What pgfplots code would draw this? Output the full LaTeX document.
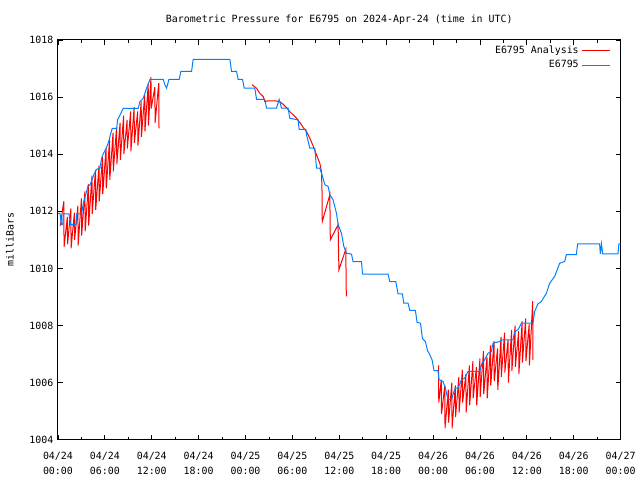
\documentclass[border=0pt]{standalone}
\usepackage{pgfplots}
\pgfplotsset{compat=1.18}
\usepackage{fontspec}
\setmainfont{DejaVu Sans Mono}
\definecolor{gpblue}{RGB}{0,128,255}
\definecolor{gpred}{RGB}{255,0,0}
\begin{document}
\begin{tikzpicture}[x=1pt,y=1pt]
\begin{axis}[
  scale only axis,
  width=422.25pt, height=300pt,
  xmin=0, xmax=72, ymin=1004, ymax=1018,
  xtick={0,6,...,72},
  minor xtick={3,9,...,69},
  ytick={1004,1006,...,1018},
  xticklabels={04/24\\00:00,04/24\\06:00,04/24\\12:00,04/24\\18:00,04/25\\00:00,04/25\\06:00,04/25\\12:00,04/25\\18:00,04/26\\00:00,04/26\\06:00,04/26\\12:00,04/26\\18:00,04/27\\00:00},
  xticklabel style={align=center, font=\fontsize{7.45}{11.25}\selectfont, yshift=-6pt},
  yticklabel style={font=\fontsize{7.45}{9}\selectfont},
  /pgf/number format/assume math mode=true,
  /pgf/number format/1000 sep={},
  tick align=inside,
  major tick length=3.5pt,
  minor tick length=2pt,
  tick style={black, line width=0.6pt},
  axis line style={black, line width=0.75pt},
  title={Barometric Pressure for E6795 on 2024-Apr-24 (time in UTC)},
  title style={font=\fontsize{7.45}{9}\selectfont, at={(0.5,1)}, anchor=base, yshift=6.75pt},
  ylabel={milliBars},
  ylabel style={font=\fontsize{7.45}{9}\selectfont, at={(axis description cs:-0.0853,0.5)}, anchor=center},
  legend style={draw=none, fill=none, at={(1,1)}, anchor=north east, xshift=-4.5pt, yshift=0pt,
    font=\fontsize{7.45}{9}\selectfont, row sep=0pt},
  legend cell align=right,
  legend plot pos=right,
  legend image code/.code={\draw[#1] (0pt,0pt) -- (21pt,0pt);},
]
% E6795 Analysis (red), three runs
\addplot[gpred, line width=0.75pt] coordinates {
(0.30,1011.50)
(0.75,1012.35)(0.78,1010.75)
(1.20,1011.80)(1.23,1010.85)
(1.65,1012.10)(1.68,1010.70)
(2.10,1011.95)(2.13,1011.00)
(2.55,1012.20)(2.58,1010.80)
(3.00,1012.45)(3.03,1011.15)
(3.45,1012.70)(3.48,1011.30)
(3.90,1012.95)(3.93,1011.50)
(4.35,1013.25)(4.38,1011.90)
(4.80,1013.45)(4.83,1012.05)
(5.25,1013.60)(5.28,1012.35)
(5.70,1013.90)(5.73,1012.60)
(6.15,1014.20)(6.18,1012.80)
(6.60,1014.50)(6.63,1013.10)
(7.05,1014.75)(7.08,1013.40)
(7.50,1014.95)(7.53,1013.65)
(7.95,1015.10)(7.98,1013.80)
(8.40,1015.35)(8.43,1014.00)
(8.85,1015.20)(8.88,1014.20)
(9.30,1015.50)(9.33,1014.10)
(9.75,1015.65)(9.78,1014.40)
(10.20,1015.50)(10.23,1014.30)
(10.65,1015.85)(10.68,1014.60)
(11.10,1016.10)(11.13,1014.80)
(11.55,1016.45)(11.58,1015.00)
(11.90,1016.70)(11.93,1015.60)
(12.40,1016.35)(12.43,1015.10)
(12.90,1016.50)(12.93,1014.90)
};
\addlegendentry{E6795 Analysis}
\addplot[gpred, line width=0.75pt, forget plot] coordinates {
(24.85,1016.43)(25.41,1016.31)(25.83,1016.13)(26.26,1016.02)(26.47,1015.84)
(26.89,1015.87)(27.75,1015.87)(28.39,1015.84)(28.81,1015.75)(29.25,1015.63)
(29.67,1015.49)(30.09,1015.38)(30.53,1015.26)(30.95,1015.11)(31.37,1014.94)
(31.81,1014.79)(32.23,1014.56)(32.65,1014.29)(33.08,1013.98)(33.51,1013.68)
(33.72,1013.39)(33.80,1012.60)(33.82,1011.64)
(34.79,1012.58)(34.85,1011.00)
(35.85,1011.53)(35.95,1009.95)
(36.83,1010.67)(36.90,1009.02)
};
\addplot[gpred, line width=0.75pt, forget plot] coordinates {
(48.70,1006.60)(48.73,1005.30)
(49.05,1006.10)(49.08,1004.90)
(49.50,1005.90)(49.53,1004.40)
(49.95,1005.75)(49.98,1004.60)
(50.40,1006.00)(50.43,1004.40)
(50.85,1005.90)(50.88,1004.80)
(51.30,1006.20)(51.33,1004.95)
(51.75,1006.45)(51.78,1005.30)
(52.20,1006.30)(52.23,1004.95)
(52.65,1006.60)(52.68,1005.20)
(53.10,1006.75)(53.13,1005.45)
(53.55,1006.55)(53.58,1005.20)
(54.00,1006.85)(54.03,1005.50)
(54.45,1007.10)(54.48,1005.60)
(54.90,1006.90)(54.93,1005.45)
(55.35,1007.30)(55.38,1005.90)
(55.80,1007.45)(55.83,1006.05)
(56.25,1007.20)(56.28,1005.75)
(56.70,1007.60)(56.73,1006.20)
(57.15,1007.75)(57.18,1006.35)
(57.60,1007.50)(57.63,1006.00)
(58.05,1007.85)(58.08,1006.40)
(58.50,1008.00)(58.53,1006.55)
(58.95,1007.80)(58.98,1006.30)
(59.40,1008.15)(59.43,1006.70)
(59.85,1008.25)(59.88,1006.75)
(60.30,1008.05)(60.33,1006.60)
(60.75,1008.85)(60.78,1006.80)
};
% E6795 observed (blue)
\addplot[gpblue, line width=0.75pt] coordinates {
(0,1011.93)(0.26,1011.93)(0.45,1011.53)(0.60,1011.53)(0.68,1011.91)(1.41,1011.91)
(1.62,1011.53)(2.30,1011.53)(2.39,1011.91)(3.03,1011.91)(3.24,1012.28)(3.45,1012.48)
(3.87,1012.91)(4.09,1012.91)(4.51,1013.22)(4.64,1013.31)(4.95,1013.47)(5.37,1013.51)
(5.59,1013.86)(5.79,1014.01)(6.23,1014.24)(6.56,1014.50)(6.65,1014.62)(6.94,1014.90)
(7.51,1014.90)(7.63,1015.20)(8.35,1015.60)(10.27,1015.60)(10.49,1015.84)(10.91,1015.96)
(11.34,1016.31)(11.77,1016.62)(13.47,1016.62)(13.68,1016.43)(13.90,1016.31)(14.20,1016.62)
(15.51,1016.62)(15.73,1016.90)(17.10,1016.90)(17.30,1017.32)(22.00,1017.32)(22.21,1016.90)
(22.85,1016.90)(23.06,1016.62)(23.62,1016.62)(23.83,1016.31)(25.19,1016.31)(25.41,1015.92)
(26.47,1015.92)(26.69,1015.61)(27.97,1015.61)(28.30,1015.92)(28.61,1015.61)(29.45,1015.61)
(29.67,1015.26)(30.73,1015.20)(30.86,1014.87)(31.72,1014.87)(31.81,1014.68)(32.23,1014.21)
(32.87,1014.21)(33.08,1013.51)(33.51,1013.51)(33.85,1013.22)(34.15,1012.93)(34.57,1012.87)
(34.79,1012.58)(35.21,1012.40)(35.64,1011.93)(35.85,1011.53)(36.28,1011.23)(36.58,1010.77)
(36.92,1010.53)(37.56,1010.50)(37.76,1010.24)(38.84,1010.24)(38.97,1009.80)(42.24,1009.80)
(42.46,1009.54)(43.23,1009.54)(43.52,1009.11)(44.08,1009.11)(44.25,1008.78)(44.80,1008.78)
(45.02,1008.53)(45.74,1008.53)(45.95,1008.11)(46.39,1008.08)(46.64,1007.54)(47.02,1007.44)
(47.28,1007.13)(47.57,1006.98)(47.87,1006.80)(48.12,1006.42)(48.63,1006.42)(48.76,1006.10)
(49.27,1006.04)(49.58,1005.81)(49.91,1005.40)(50.35,1005.40)(50.68,1005.69)(50.86,1005.81)
(51.19,1005.81)(51.63,1006.10)(52.05,1006.16)(52.47,1006.39)(53.97,1006.39)(54.26,1006.68)
(54.61,1006.80)(55.03,1007.03)(55.46,1007.09)(55.67,1007.38)(56.53,1007.44)(56.74,1007.50)
(58.23,1007.50)(58.44,1007.79)(58.87,1007.85)(59.30,1008.08)(60.78,1008.08)(61.00,1008.49)
(61.42,1008.76)(61.86,1008.84)(62.50,1009.13)(62.92,1009.48)(63.56,1009.72)(64.20,1010.18)
(64.84,1010.24)(65.06,1010.48)(66.33,1010.48)(66.50,1010.86)(69.31,1010.86)(69.40,1010.51)
(69.55,1010.86)(69.70,1010.51)(71.66,1010.51)(71.78,1010.86)(72,1010.86)
};
\addlegendentry{E6795}
\end{axis}
\path[use as bounding box] ([xshift=-43.5pt,yshift=-30pt]current axis.south west) rectangle ([xshift=14.25pt,yshift=30pt]current axis.north east);
\end{tikzpicture}
\end{document}
